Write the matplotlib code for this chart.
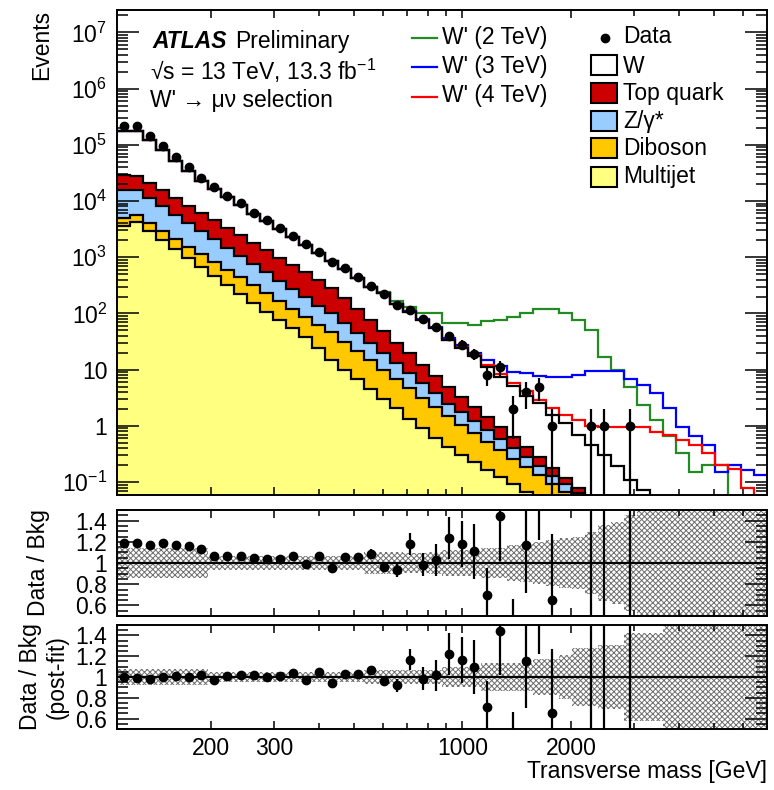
import numpy as np
import matplotlib
matplotlib.use('Agg')
import matplotlib.pyplot as plt
from matplotlib.patches import Rectangle
from matplotlib.lines import Line2D
from matplotlib.ticker import (FixedLocator, FixedFormatter, LogLocator,
                               NullFormatter, MultipleLocator)

plt.rcParams['font.family'] = ['Liberation Sans', 'DejaVu Sans']
plt.rcParams['mathtext.fontset'] = 'custom'
plt.rcParams['mathtext.rm'] = 'Liberation Sans'
plt.rcParams['mathtext.it'] = 'Liberation Sans:italic'
plt.rcParams['font.size'] = 16.5
plt.rcParams['hatch.linewidth'] = 0.7

# 50 log-spaced transverse-mass bins, 110 GeV - 7 TeV
edges = np.geomspace(110, 7000, 51)
centres = np.sqrt(edges[:-1] * edges[1:])

# stacked background: top edge of each component in the stack
stack_multijet = [3550, 4170, 2880, 2000, 1380, 955, 661, 468, 324, 224,
                  155, 107, 77.6, 55, 38, 24, 15.1, 10, 6.8, 4.5,
                  3.0, 2.04, 1.35, 0.91, 0.62, 0.42, 0.30, 0.224, 0.166, 0.123,
                  0.091, 0.068, 0.05, 0.037, 0.027, 0.02, 0.015, 0.011, 0.008, 0.006,
                  0.0045, 0.0033, 0.0025, 0.0018, 0.0013, 0.001, 0.0007, 0.0005, 0.0004, 0.0003]
stack_diboson = [5010, 5620, 4070, 2950, 2140, 1550, 1120, 832, 603, 437,
                 316, 229, 166, 120, 87, 63, 46, 31.6, 21.4, 14.8,
                 10, 6.9, 4.7, 3.16, 2.19, 1.48, 1.05, 0.74, 0.525, 0.37,
                 0.263, 0.186, 0.132, 0.093, 0.066, 0.047, 0.033, 0.023, 0.016, 0.011,
                 0.008, 0.0056, 0.004, 0.0028, 0.002, 0.0014, 0.001, 0.0007, 0.0005, 0.00035]
stack_zgamma = [15800, 15800, 11200, 8130, 5750, 4070, 2950, 2090, 1480, 1050,
                759, 537, 380, 275, 195, 138, 100, 68, 45, 30,
                20, 13.2, 8.7, 5.8, 3.8, 2.5, 1.74, 1.2, 0.83, 0.575,
                0.40, 0.275, 0.19, 0.13, 0.091, 0.063, 0.044, 0.03, 0.021, 0.014,
                0.01, 0.007, 0.005, 0.0035, 0.0025, 0.0018, 0.0013, 0.0009, 0.0006, 0.0004]
stack_top = [29000, 28200, 20900, 15500, 11200, 8320, 6170, 4570, 3310, 2450,
             1820, 1320, 977, 724, 537, 389, 288, 191, 120, 76,
             48, 30, 19.5, 12.3, 7.8, 5.0, 3.3, 2.2, 1.45, 0.95,
             0.63, 0.42, 0.275, 0.18, 0.12, 0.079, 0.052, 0.035, 0.023, 0.015,
             0.011, 0.008, 0.0058, 0.0042, 0.003, 0.0022, 0.0016, 0.0011, 0.0008, 0.0005]
stack_w = [178000, 178000, 124000, 81000, 52000, 34500, 23000, 16500, 11700, 8600,
           5900, 4400, 3150, 2250, 1650, 1200, 870, 610, 420, 295,
           232, 150, 108, 78, 55, 34, 24.5, 17.5, 11.2, 7.5,
           5.2, 3.4, 2.6, 1.55, 1.12, 0.70, 0.45, 0.30, 0.19, 0.11,
           0.072, 0.045, 0.03, 0.02, 0.013, 0.009, 0.006, 0.004, 0.003, 0.002]

# W' signal + background, high-mass part (lower bins follow the background)
wp2_start = 20
wp2_tail = [240, 167, 133, 101, 101, 69, 69, 63, 72, 77,
            85, 101, 121, 121, 104, 75, 50, 17, 9.9, 4.9,
            2.4, 1.28, 0.65, 0.33, 0.154, 0.20, 0.20, 0.03, 0.02, 0.015]
wp3_start = 22
wp3_tail = [110, 81, 58, 37, 27, 20, 14.9, 11.4, 9.2, 8.9,
            7.8, 7.35, 7.35, 8.1, 9.6, 9.6, 9.6, 6.8, 5.4, 3.8,
            2.07, 0.97, 0.65, 0.46, 0.154, 0.2, 0.165, 0.134]
wp4_start = 26
wp4_tail = [25, 18, 12.3, 8.3, 5.9, 4.2, 2.9, 2.07, 1.57, 1.28,
            1.0, 0.97, 0.97, 0.97, 0.97, 0.79, 0.69, 0.56, 0.46, 0.33,
            0.2, 0.17, 0.08, 0.04]

data = [212000, 212000, 145000, 96000, 60000, 40000, 25500, 17700, 12400, 9200,
        6200, 4600, 3300, 2400, 1730, 1260, 830, 640, 443, 310,
        223, 142, 116, 79, 57, 40, 28, 19, 8, 11,
        2, 4, 5, 1, 0, 0, 1, 1, 0, 1,
        0, 0, 0, 0, 0, 0, 0, 0, 0, 0]

nan = np.nan
ratio_pre = [1.19, 1.19, 1.17, 1.19, 1.17, 1.16, 1.13, 1.066, 1.066, 1.07,
             1.047, 1.035, 1.04, 1.066, 0.994, 1.066, 0.953, 1.057, 1.057, 1.088,
             0.962, 0.93, 1.18, 0.985, 1.025, 1.236, 1.18, 1.11, 0.70, 1.44,
             0.38, 1.17, 1.9, 0.65, nan, nan, 3.0, 3.0, nan, 3.0,
             nan, nan, nan, nan, nan, nan, nan, nan, nan, nan]
ratio_post = [1.0, 0.994, 0.984, 1.0, 1.006, 1.0, 1.022, 0.967, 1.01, 1.016,
              1.016, 1.0, 1.01, 1.04, 0.968, 1.048, 0.94, 1.03, 1.03, 1.064,
              0.96, 0.92, 1.167, 0.984, 1.016, 1.22, 1.167, 1.10, 0.71, 1.44,
              0.38, 1.15, 1.9, 0.65, nan, nan, 3.0, 3.0, nan, 3.0,
              nan, nan, nan, nan, nan, nan, nan, nan, nan, nan]
ratio_err = [0.01, 0.01, 0.01, 0.01, 0.01, 0.01, 0.01, 0.01, 0.01, 0.01,
             0.01, 0.01, 0.01, 0.015, 0.015, 0.015, 0.02, 0.02, 0.03, 0.04,
             0.05, 0.06, 0.1, 0.11, 0.15, 0.2, 0.22, 0.26, 0.25, 0.42,
             0.28, 0.45, 0.68, 0.62, 0, 0, 2.7, 2.7, 0, 2.7,
             0, 0, 0, 0, 0, 0, 0, 0, 0, 0]

# half-width of the systematic band around 1
band_pre = [0.14, 0.14, 0.14, 0.14, 0.14, 0.14, 0.14, 0.07, 0.07, 0.07,
            0.07, 0.07, 0.07, 0.07, 0.07, 0.07, 0.07, 0.07, 0.07, 0.1,
            0.1, 0.1, 0.09, 0.09, 0.10, 0.12, 0.12, 0.125, 0.14, 0.14,
            0.17, 0.18, 0.2, 0.22, 0.24, 0.245, 0.29, 0.36, 0.39, 0.45,
            0.6, 0.6, 0.6, 0.6, 0.6, 0.6, 0.6, 0.6, 0.6, 0.6]
band_post = [0.08, 0.08, 0.08, 0.08, 0.08, 0.08, 0.08, 0.05, 0.05, 0.05,
             0.05, 0.05, 0.05, 0.05, 0.05, 0.05, 0.05, 0.05, 0.05, 0.07,
             0.07, 0.07, 0.07, 0.07, 0.07, 0.095, 0.095, 0.095, 0.13, 0.13,
             0.13, 0.13, 0.17, 0.17, 0.21, 0.28, 0.28, 0.31, 0.31, 0.42,
             0.42, 0.42, 0.6, 0.6, 0.6, 0.6, 0.6, 0.6, 0.6, 0.6]

xtick_major = [200, 300, 1000, 2000]
xtick_minor = [400, 500, 600, 700, 800, 900, 3000, 4000, 5000, 6000]

fig = plt.figure(figsize=(7.74, 7.90), dpi=100)
ax = fig.add_axes([117/774, 1 - 495/790, 650/774, 485/790])
ax_r1 = fig.add_axes([117/774, 1 - 616/790, 650/774, 106/790])
ax_r2 = fig.add_axes([117/774, 1 - 729/790, 650/774, 104/790])


def style_x(a, labels):
    a.set_xscale('log')
    a.set_xlim(110, 7000)
    a.xaxis.set_major_locator(FixedLocator(xtick_major))
    a.xaxis.set_minor_locator(FixedLocator(xtick_minor))
    a.xaxis.set_major_formatter(FixedFormatter([str(v) for v in xtick_major] if labels else ['']*4))
    a.xaxis.set_minor_formatter(NullFormatter())
    a.tick_params(axis='x', which='major', direction='in', top=True, length=6, width=1.1, pad=6)
    a.tick_params(axis='x', which='minor', direction='in', top=True, length=4, width=1.1)
    for s in a.spines.values():
        s.set_linewidth(1.4)


# ---- main panel ----
style_x(ax, False)
ax.set_yscale('log', nonpositive='clip')
ax.set_ylim(0.059, 2.5e7)
decades = [0.1, 1, 10, 1e2, 1e3, 1e4, 1e5, 1e6, 1e7]
ax.yaxis.set_major_locator(FixedLocator(decades))
ax.yaxis.set_major_formatter(FixedFormatter(['10$^{-1}$', '1', '10', '10$^{2}$', '10$^{3}$',
                                             '10$^{4}$', '10$^{5}$', '10$^{6}$', '10$^{7}$']))
ax.yaxis.set_minor_locator(LogLocator(base=10, subs=np.arange(2, 10), numticks=30))
ax.yaxis.set_minor_formatter(NullFormatter())
ax.tick_params(axis='y', which='major', direction='in', right=True, length=16, width=1.1, pad=7)
ax.tick_params(axis='y', which='minor', direction='in', right=True, length=8, width=1.1)

levels = [np.array(stack_multijet), np.array(stack_diboson), np.array(stack_zgamma),
          np.array(stack_top), np.array(stack_w)]
colours = ['#ffff80', '#ffc800', '#99ccff', '#cc0000', 'white']
base = np.full(50, 1e-5)
for lvl, c in zip(levels, colours):
    ax.stairs(lvl, edges, baseline=base, fill=True, facecolor=c, edgecolor='none', lw=0, zorder=1)
    base = lvl

bkg = np.array(stack_w)
sig_lines = [(wp2_start, wp2_tail, '#238b22'), (wp3_start, wp3_tail, '#0000ff'),
             (wp4_start, wp4_tail, '#ff0000')]
for start, tail, c in sig_lines:
    vals = np.concatenate([bkg[:start], tail])
    ax.stairs(vals, edges, baseline=None, color=c, lw=1.6, zorder=2)

for lvl in levels:
    ax.stairs(lvl, edges, baseline=None, color='black', lw=1.6, zorder=3)

d = np.array(data, dtype=float)
m = d > 0
ax.errorbar(centres[m], d[m], yerr=np.sqrt(d[m]), fmt='o', color='black', ms=6,
            elinewidth=1.6, capsize=0, zorder=5)

ax.set_ylabel('Events', loc='top')
ax.yaxis.set_label_coords(-0.098, 1.0)

# labels
ax.text(0.054, 0.9216, 'ATLAS', transform=ax.transAxes, fontweight='bold',
        fontstyle='italic', va='baseline')
ax.text(0.1815, 0.9216, 'Preliminary', transform=ax.transAxes, va='baseline')
ax.text(0.051, 0.8557, '√s = 13 TeV, 13.3 fb$^{-1}$', transform=ax.transAxes, va='baseline')
ax.text(0.051, 0.80, "W' → μν selection", transform=ax.transAxes, va='baseline')

# legend, left column (signals)
for ly, ty, c, lab in [(0.9416, 0.9299, '#238b22', "W' (2 TeV)"),
                       (0.8831, 0.8701, '#0000ff', "W' (3 TeV)"),
                       (0.8213, 0.8103, '#ff0000', "W' (4 TeV)")]:
    ax.add_line(Line2D([0.4538, 0.4923], [ly, ly], transform=ax.transAxes, color=c, lw=1.6))
    ax.text(0.50, ty, lab, transform=ax.transAxes, va='baseline')

# legend, right column (data + backgrounds)
ax.plot([0.7508], [0.9429], 'o', color='black', ms=6, transform=ax.transAxes)
ax.text(0.7785, 0.932, 'Data', transform=ax.transAxes, va='baseline')
for yb, ty, c, lab in [(0.866, 0.8701, 'white', 'W'),
                       (0.8076, 0.8144, '#cc0000', 'Top quark'),
                       (0.7511, 0.7567, '#99ccff', 'Z/γ*'),
                       (0.6942, 0.701, '#ffc800', 'Diboson'),
                       (0.6357, 0.6433, '#ffff80', 'Multijet')]:
    ax.add_patch(Rectangle((0.7292, yb), 0.04, 0.0412, transform=ax.transAxes,
                           facecolor=c, edgecolor='black', lw=1.5))
    ax.text(0.7785, ty, lab, transform=ax.transAxes, va='baseline')


# ---- ratio panels ----
def ratio_panel(a, ratio, band, label, show_x):
    style_x(a, show_x)
    a.set_ylim(0.5, 1.5)
    a.yaxis.set_major_locator(FixedLocator([0.6, 0.8, 1.0, 1.2, 1.4]))
    a.yaxis.set_major_formatter(FixedFormatter(['0.6', '0.8', '1', '1.2', '1.4']))
    a.yaxis.set_minor_locator(MultipleLocator(0.05))
    a.tick_params(axis='y', which='major', direction='in', right=True, length=16, width=1.1, pad=7)
    a.tick_params(axis='y', which='minor', direction='in', right=True, length=8, width=1.1)
    b = np.array(band)
    a.stairs(1 + b, edges, baseline=1 - b, fill=True, facecolor='none',
             edgecolor='#6e6e6e', hatch='xxxxxx', lw=0, zorder=1)
    a.axhline(1.0, color='black', lw=1.6, zorder=2)
    r = np.array(ratio)
    e = np.array(ratio_err)
    ok = ~np.isnan(r)
    a.errorbar(centres[ok], r[ok], yerr=e[ok], fmt='o', color='black', ms=6,
               elinewidth=1.6, capsize=0, zorder=3)
    a.set_ylabel(label, ha='center', multialignment='center')


ratio_panel(ax_r1, ratio_pre, band_pre, 'Data / Bkg', False)
ax_r1.yaxis.set_label_coords(-0.103, 0.5)
ratio_panel(ax_r2, ratio_post, band_post, 'Data / Bkg\n(post-fit)', True)
ax_r2.yaxis.set_label_coords(-0.075, 0.5)

ax_r2.set_xlabel('Transverse mass [GeV]', loc='right')
ax_r2.xaxis.set_label_coords(1.0, -0.30)
ax_r2.xaxis.label.set_va('top')

fig.savefig('out.png', dpi=100)
